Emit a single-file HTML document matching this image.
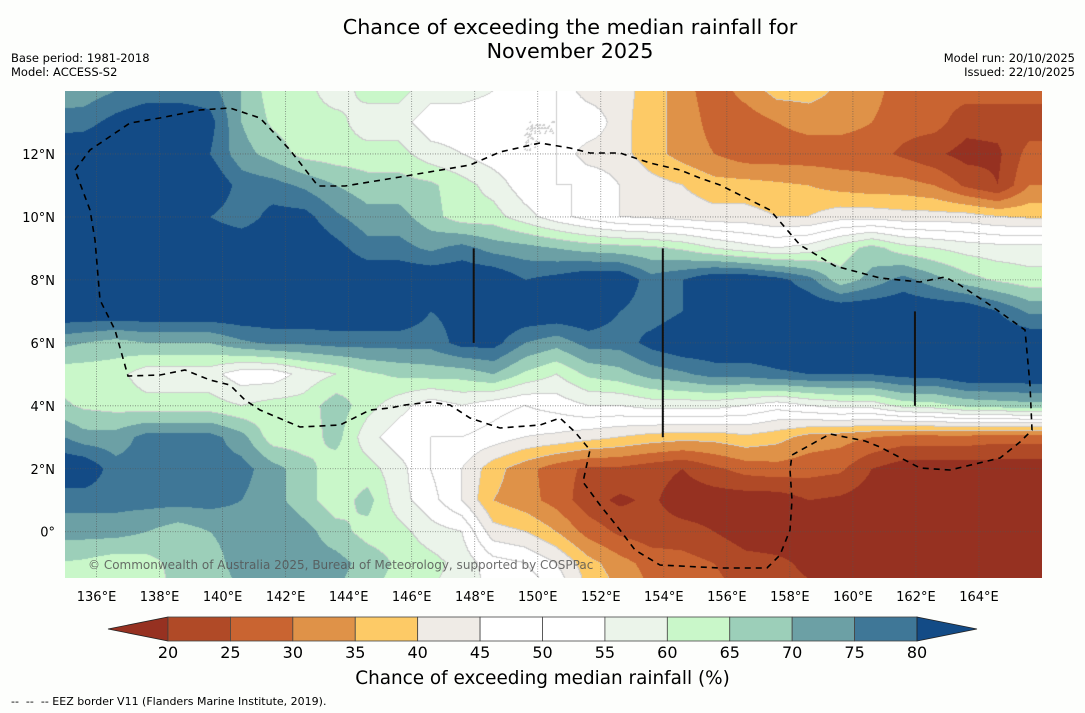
<!DOCTYPE html>
<html><head><meta charset="utf-8"><style>
body{margin:0;background:#fdfefc;}
#root{position:relative;width:1085px;height:713px;background:#fdfefc;font-family:"DejaVu Sans","Liberation Sans",sans-serif;overflow:hidden}
.t{position:absolute;white-space:nowrap;color:#000}
</style></head><body>
<div id="root">
<div class="t" style="left:0;width:1140px;text-align:center;top:15px;font-size:20.7px;line-height:24px">Chance of exceeding the median rainfall for<br>November 2025</div>
<div class="t" style="left:11px;top:51px;font-size:11.5px;line-height:14px">Base period: 1981-2018<br>Model: ACCESS-S2</div>
<div class="t" style="right:10px;top:51px;font-size:11.5px;line-height:14px;text-align:right">Model run: 20/10/2025<br>Issued: 22/10/2025</div>
<canvas id="map" width="977" height="487" style="position:absolute;left:65px;top:91px"></canvas>
<svg id="ov" width="1085" height="713" style="position:absolute;left:0;top:0"></svg>
<div class="t" style="left:88px;top:558px;font-size:12px;color:#555;opacity:0.85">© Commonwealth of Australia 2025, Bureau of Meteorology, supported by COSPPac</div>
<div class="t" style="left:0;width:1085px;text-align:center;top:668px;font-size:18.4px">Chance of exceeding median rainfall (%)</div>
<div class="t" style="left:11px;top:695px;font-size:11px">--&nbsp; --&nbsp; -- EEZ border V11 (Flanders Marine Institute, 2019).</div>
</div>
<script>
const lons=[135,136,137,138,139,140,141,142,143,144,145,146,147,148,149,150,151,152,153,154,155,156,157,158,159,160,161,162,163,164,165,166];
const lats=[14,13,12,11,10,9,8,7,6,5,4,3,2,1,0,-1,-2];
const r14=[72,72,75,77,77,77,70,62,62,57,62,62,57,57,55,52,50,42,42,38,32,27,32,37,37,34,32,27,27,27,27,27];
const r13=[77,78,82,85,85,82,70,64,62,62,57,57,52,52,52,50,50,50,42,37,33,28,27,30,32,32,30,27,27,22,22,22];
const r12=[85,85,85,85,85,80,72,68,63,62,62,62,57,55,52,50,50,42,42,37,33,30,27,27,27,27,27,24,21,18,19,27];
const r11=[85,85,85,85,85,85,78,77,74,70,67,67,66,62,58,52,50,50,45,42,40,37,37,36,35,33,32,32,30,24,20,30];
const r10=[85,85,85,85,85,80,77,82,82,76,72,72,67,62,62,57,52,48,45,44,43,42,42,40,40,43,43,42,42,42,40,39];
const r9=[85,85,85,85,85,85,85,85,85,82,77,77,74,77,73,72,70,68,67,66,64,60,57,55,57,62,67,62,60,58,57,57];
const r8=[85,85,85,85,85,85,85,85,85,85,85,85,85,85,85,80,82,85,85,77,80,85,85,82,77,67,72,77,72,67,64,62];
const r7=[85,85,85,85,85,85,85,85,85,85,85,85,80,82,85,85,85,85,80,77,80,85,85,85,85,85,85,85,85,85,80,74];
const r6=[72,70,68,70,70,70,74,76,76,77,77,77,77,82,82,75,72,77,77,82,85,85,85,85,85,85,85,85,85,85,85,85];
const r5=[62,62,62,57,57,57,52,52,57,60,64,66,67,67,70,64,60,66,68,72,74,77,77,79,80,80,80,82,82,85,85,85];
const r4=[67,64,63,62,62,62,60,62,62,68,62,57,52,55,52,50,52,55,55,57,57,57,55,52,55,57,57,62,63,66,67,68];
const r3=[77,72,72,77,77,77,72,62,62,67,57,52,50,50,48,45,44,42,40,38,37,37,39,37,33,32,30,28,28,28,27,27];
const r2=[85,85,77,77,77,77,77,72,67,62,62,57,50,45,37,32,27,24,24,22,20,24,27,28,27,26,20,17,17,17,17,17];
const r1=[77,77,77,77,77,77,75,72,67,62,67,57,52,45,35,32,28,22,19,21,17,17,17,17,20,19,17,17,17,17,17,17];
const r0=[72,72,72,70,67,70,72,75,72,67,63,62,57,55,42,40,35,28,24,22,22,20,17,17,17,17,17,17,17,17,17,17];
const rm1=[65,64,62,63,67,68,72,72,72,72,68,64,62,58,52,50,45,37,32,28,27,25,22,21,19,17,17,17,17,17,17,17];
const rm2=[62,62,60,62,66,67,70,72,72,70,66,62,60,57,55,55,50,40,35,30,27,27,24,22,21,17,17,17,17,17,17,17];
const grid=[r14,r13,r12,r11,r10,r9,r8,r7,r6,r5,r4,r3,r2,r1,r0,rm1,rm2];
const levels=[20,25,30,35,40,45,50,55,60,65,70,75,80];
const tickLons=[136,138,140,142,144,146,148,150,152,154,156,158,160,162,164];
const tickLats=[0,2,4,6,8,10,12];
const colors=['#963121','#b04a27','#c96431','#df9248','#fdca66','#efebe6','#ffffff','#ffffff','#ebf4ea','#c9f7c9','#9ccfb9','#6ca0a5','#3f7797','#134b86'];

const X0=65,Y0=91,W=977,H=487,LON0=135,LON1=166,LAT0=14,LAT1=-1.47;
const xOf=lon=>X0+(lon-LON0)/(LON1-LON0)*W;
const yOf=lat=>Y0+(LAT0-lat)/(LAT0-LAT1)*H;
const sampleShift=-0.4;
function val(lon,lat){
  let fi=(lon-(lons[0]+sampleShift));fi=Math.max(0,Math.min(lons.length-1,fi));
  let fj=(lats[0]-lat);fj=Math.max(0,Math.min(lats.length-1,fj));
  const i=Math.min(Math.floor(fi),lons.length-2),j=Math.min(Math.floor(fj),lats.length-2);
  const a=fi-i,b=fj-j;
  return grid[j][i]*(1-a)*(1-b)+grid[j][i+1]*a*(1-b)+grid[j+1][i]*(1-a)*b+grid[j+1][i+1]*a*b;
}
function binOf(v){let k=0;while(k<levels.length&&v>=levels[k])k++;return k;}
function hex(c){return [parseInt(c.slice(1,3),16),parseInt(c.slice(3,5),16),parseInt(c.slice(5,7),16)];}
const rgb=colors.map(hex);
const cv=document.getElementById('map'),ctx=cv.getContext('2d');
const img=ctx.createImageData(W,H);
const bins=new Int8Array(W*H);
for(let py=0;py<H;py++){for(let px=0;px<W;px++){
  const lon=LON0+(px+0.5)/W*(LON1-LON0),lat=LAT0-(py+0.5)/H*(LAT0-LAT1);
  bins[py*W+px]=binOf(val(lon,lat));}}
for(let py=0;py<H;py++){for(let px=0;px<W;px++){
  const k=bins[py*W+px];let c=rgb[k];
  const r=px<W-1?bins[py*W+px+1]:k,d=py<H-1?bins[(py+1)*W+px]:k;
  const o=(py*W+px)*4;
  if((r!==k||d!==k)&&k>=4&&k<=9){img.data[o]=205;img.data[o+1]=205;img.data[o+2]=205;}
  else{img.data[o]=c[0];img.data[o+1]=c[1];img.data[o+2]=c[2];}
  img.data[o+3]=255;}}
ctx.putImageData(img,0,0);

const NS='http://www.w3.org/2000/svg',ov=document.getElementById('ov');
function mk(tag,attrs,parent){const e=document.createElementNS(NS,tag);for(const k in attrs)e.setAttribute(k,attrs[k]);(parent||ov).appendChild(e);return e;}
const FF='DejaVu Sans, Liberation Sans, sans-serif';
tickLons.forEach(l=>{
  const ln=mk('line',{x1:xOf(l),x2:xOf(l),y1:Y0,y2:Y0+H,stroke:'#555','stroke-width':0.8,'stroke-dasharray':'1,1.5',opacity:0.7});
  
  
  const t=mk('text',{x:xOf(l),y:601,'text-anchor':'middle','font-size':13,'font-family':FF});
  t.textContent=l+'°E';
  
  
});
tickLats.forEach(l=>{
  const ln=mk('line',{x1:X0,x2:X0+W,y1:yOf(l),y2:yOf(l),stroke:'#555','stroke-width':0.8,'stroke-dasharray':'1,1.5',opacity:0.7});
  
  
  const t=mk('text',{x:55,y:yOf(l)+5,'text-anchor':'end','font-size':13,'font-family':FF});
  t.textContent=l===0?'0°':l+'°N';
  
  
});
[[148,6,9],[154,3,9],[162,4,7]].forEach(s=>{
  const ln=mk('line',{x1:xOf(s[0])-1,x2:xOf(s[0])-1,y1:yOf(s[2]),y2:yOf(s[1]),stroke:'#111','stroke-width':2});
  
  
});
const eez=[[75,170],[90,150],[130,123],[160,118],[200,110],[230,108],[260,118],[290,150],[318,186],[345,186],[400,177],[470,165],[500,152],[540,143],[570,148],[590,153],[620,153],[650,163],[680,170],[700,178],[720,185],[770,210],[800,245],[835,266],[880,278],[920,282],[945,277],[960,285],[990,305],[1025,330],[1030,385],[1032,430],[1020,442],[1000,458],[950,470],[920,468],[880,447],[865,441],[830,434],[792,455],[790,470],[792,500],[790,530],[780,555],[767,568],[720,568],[660,565],[635,550],[620,530],[600,505],[583,482],[590,450],[575,432],[560,418],[540,425],[500,428],[470,418],[450,405],[430,402],[405,405],[390,408],[370,410],[340,425],[300,427],[260,410],[245,400],[230,385],[210,380],[185,370],[160,375],[128,376],[115,330],[100,300],[95,240],[90,210],[75,170]];
const ep=mk('polyline',{points:eez.map(p=>p.join(',')).join(' '),fill:'none',stroke:'#000','stroke-width':1.6,'stroke-dasharray':'6,5'});


const cbL=168,cbR=917,cbT=617,cbB=641,segW=(cbR-cbL)/(levels.length-1);
const lt=mk('polygon',{points:`108,629 ${cbL},${cbT} ${cbL},${cbB}`,fill:colors[0],stroke:'#222','stroke-width':0.8});


for(let k=1;k<levels.length;k++){
  const r=mk('rect',{x:cbL+(k-1)*segW,y:cbT,width:segW,height:cbB-cbT,fill:colors[k],stroke:'#444','stroke-width':0.8});
  
  
}
const rt=mk('polygon',{points:`${cbR},${cbT} 977,629 ${cbR},${cbB}`,fill:colors[13],stroke:'#222','stroke-width':0.8});


levels.forEach((v,k)=>{
  const t=mk('text',{x:cbL+k*segW,y:658,'text-anchor':'middle','font-size':16,'font-family':FF});
  t.textContent=v;
  
  
});
</script>
</body></html>
